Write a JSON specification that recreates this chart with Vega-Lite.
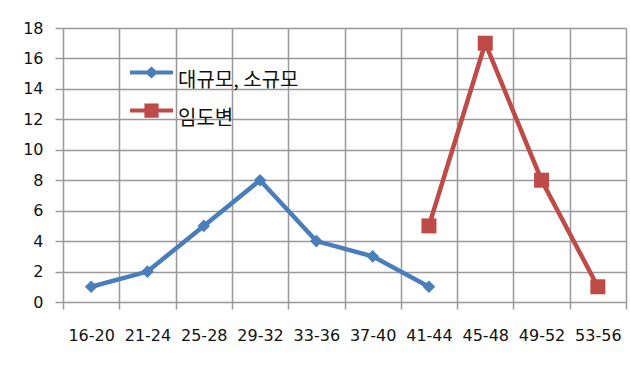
{
  "$schema": "https://vega.github.io/schema/vega-lite/v6.json",
  "autosize": {"type": "none"},
  "padding": {"left": 63, "top": 28, "right": 4, "bottom": 67},
  "width": 563,
  "height": 274,
  "background": "white",
  "config": {
    "view": {"stroke": null},
    "axis": {
      "labelFont": "DejaVu Sans",
      "labelFontSize": 16,
      "labelColor": "#111111",
      "gridColor": "#999999",
      "gridWidth": 1.5,
      "gridOpacity": 1,
      "tickColor": "#999999",
      "tickWidth": 1.5,
      "domain": false,
      "title": null
    },
    "legend": {
      "labelFont": "Noto Sans CJK KR",
      "labelFontSize": 20,
      "labelColor": "#111111",
      "padding": 0
    }
  },
  "data": {
    "values": [
      {"age": "16-20", "series": "대규모, 소규모", "count": 1},
      {"age": "21-24", "series": "대규모, 소규모", "count": 2},
      {"age": "25-28", "series": "대규모, 소규모", "count": 5},
      {"age": "29-32", "series": "대규모, 소규모", "count": 8},
      {"age": "33-36", "series": "대규모, 소규모", "count": 4},
      {"age": "37-40", "series": "대규모, 소규모", "count": 3},
      {"age": "41-44", "series": "대규모, 소규모", "count": 1},
      {"age": "41-44", "series": "임도변", "count": 5},
      {"age": "45-48", "series": "임도변", "count": 17},
      {"age": "49-52", "series": "임도변", "count": 8},
      {"age": "53-56", "series": "임도변", "count": 1}
    ]
  },
  "encoding": {
    "x": {
      "field": "age",
      "type": "ordinal",
      "sort": ["16-20", "21-24", "25-28", "29-32", "33-36", "37-40", "41-44", "45-48", "49-52", "53-56"],
      "scale": {"type": "band", "paddingInner": 0, "paddingOuter": 0, "domain": ["16-20", "21-24", "25-28", "29-32", "33-36", "37-40", "41-44", "45-48", "49-52", "53-56"]},
      "axis": {"tickBand": "extent", "labelAngle": 0, "tickSize": 7, "labelPadding": 18, "grid": true}
    },
    "y": {
      "field": "count",
      "type": "quantitative",
      "scale": {"domain": [0, 18], "nice": false},
      "axis": {"values": [0, 2, 4, 6, 8, 10, 12, 14, 16, 18], "tickSize": 8, "labelPadding": 12, "grid": true}
    }
  },
  "layer": [
    {
      "transform": [{"filter": "datum.series === '대규모, 소규모'"}],
      "mark": {"type": "line", "strokeWidth": 4.5, "color": "#4A7EBB"}
    },
    {
      "transform": [{"filter": "datum.series === '임도변'"}],
      "mark": {"type": "line", "strokeWidth": 4.5, "color": "#BE4B48"}
    },
    {
      "transform": [{"filter": "datum.series === '대규모, 소규모'"}],
      "mark": {"type": "point", "shape": "diamond", "filled": true, "size": 160, "opacity": 1, "color": "#4A7EBB"}
    },
    {
      "transform": [{"filter": "datum.series === '임도변'"}],
      "mark": {"type": "point", "shape": "square", "filled": true, "size": 225, "opacity": 1, "color": "#BE4B48"}
    },
    {
      "mark": {"type": "point", "filled": true, "opacity": 0},
      "encoding": {
        "shape": {
          "field": "series",
          "type": "nominal",
          "scale": {
            "domain": ["대규모, 소규모", "임도변"],
            "range": [
              "M-1,-0.46L1,-0.46L1,-0.28L-1,-0.28Z M0,-0.65L0.3,-0.37L0,-0.09L-0.3,-0.37Z",
              "M-1,-0.46L1,-0.46L1,-0.28L-1,-0.28Z M-0.33,-0.7L0.33,-0.7L0.33,-0.04L-0.33,-0.04Z"
            ]
          },
          "legend": {
            "title": null,
            "orient": "none",
            "legendX": 67,
            "legendY": 31,
            "symbolSize": 1849,
            "symbolOpacity": 1,
            "symbolStrokeWidth": 0,
            "labelOffset": 5,
            "rowPadding": 6,
            "labelBaseline": "middle"
          }
        },
        "color": {
          "field": "series",
          "type": "nominal",
          "scale": {"domain": ["대규모, 소규모", "임도변"], "range": ["#4A7EBB", "#BE4B48"]}
        }
      }
    }
  ]
}
